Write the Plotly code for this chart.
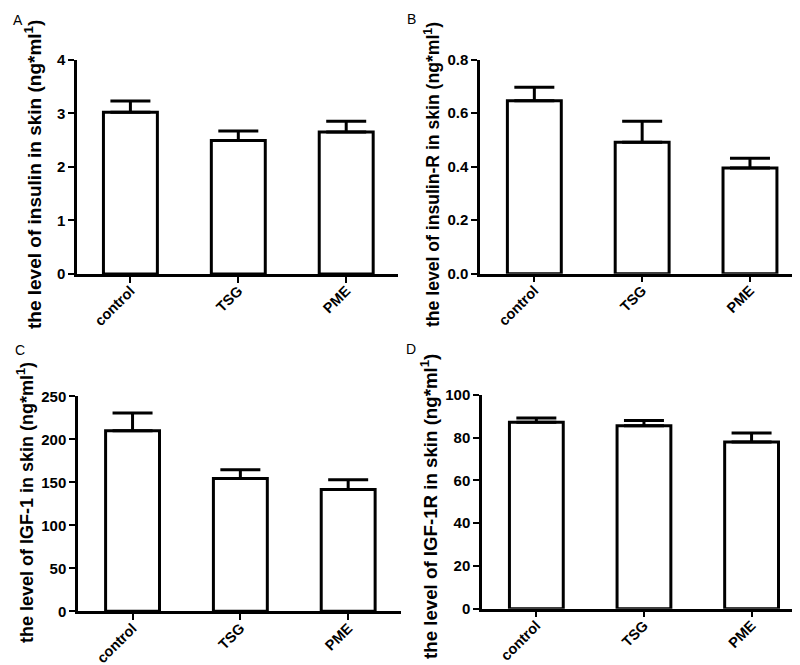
import plotly.graph_objects as go

categories = ["control", "TSG", "PME"]

insulin_mean = [3.02, 2.49, 2.65]
insulin_sem = [0.21, 0.18, 0.20]

insulin_r_mean = [0.647, 0.491, 0.395]
insulin_r_sem = [0.050, 0.079, 0.037]

igf1_mean = [210.0, 154.3, 141.5]
igf1_sem = [20.6, 10.4, 11.6]

igf1r_mean = [87.1, 85.5, 77.9]
igf1r_sem = [2.0, 2.4, 4.2]

panel_letters = ["A", "B", "C", "D"]
y_titles = [
    "the level of insulin in skin (ng*ml<sup>1</sup>)",
    "the level of insulin-R in skin (ng*ml<sup>1</sup>)",
    "the level of IGF-1 in skin (ng*ml<sup>1</sup>)",
    "the level of IGF-1R in skin (ng*ml<sup>1</sup>)",
]
y_ranges = [[0, 4], [0, 0.8], [0, 250], [0, 100]]
y_dtick = [1, 0.2, 50, 20]
y_fmt = [".0f", ".1f", ".0f", ".0f"]

means = [insulin_mean, insulin_r_mean, igf1_mean, igf1r_mean]
sems = [insulin_sem, insulin_r_sem, igf1_sem, igf1r_sem]

W, H = 800, 665
# pixel boxes: (x0, x1, ytop, ybottom)
boxes = [
    (69, 390, 51.7, 266.0),
    (472, 792, 51.7, 265.7),
    (70, 393, 388.3, 603.3),
    (474, 792, 386.7, 600.7),
]
x_ranges = [[-0.495, 2.48], [-0.504, 2.464], [-0.506, 2.49], [-0.505, 2.45]]
# y-title centres (px) and font sizes
title_centres = [(25, 167), (424, 167), (17, 495), (421, 499)]
title_sizes = [19, 17.6, 18, 18.7]
letter_centres = [(9.5, 12), (403, 11), (12, 342), (403, 341)]

FONT = "Liberation Sans, Arial, sans-serif"
xpos = list(range(len(categories)))

fig = go.Figure()
layout = dict(
    width=W, height=H,
    margin=dict(l=0, r=0, t=0, b=0, autoexpand=False),
    paper_bgcolor="white", plot_bgcolor="white",
    showlegend=False,
    font=dict(family=FONT, color="black"),
    annotations=[],
)

for i in range(4):
    xa = "x" if i == 0 else f"x{i+1}"
    ya = "y" if i == 0 else f"y{i+1}"
    fig.add_trace(go.Bar(
        x=xpos, y=means[i], xaxis=xa, yaxis=ya,
        width=0.5,
        marker=dict(color="white", line=dict(color="black", width=3)),
        error_y=dict(type="data", symmetric=False, array=sems[i],
                     arrayminus=[0] * len(sems[i]),
                     color="black", thickness=3, width=20),
        cliponaxis=False,
    ))
    x0, x1, yt, yb = boxes[i]
    key_x = "xaxis" if i == 0 else f"xaxis{i+1}"
    key_y = "yaxis" if i == 0 else f"yaxis{i+1}"
    layout[key_x] = dict(
        domain=[x0 / W, x1 / W], anchor=ya, range=x_ranges[i],
        tickvals=xpos, ticktext=categories, tickangle=-45,
        showline=True, linecolor="black", linewidth=2.5,
        ticks="outside", ticklen=6, tickwidth=2, tickcolor="black",
        ticklabelstandoff=-6,
        tickfont=dict(size=14.5, family=FONT, weight="bold"),
        showgrid=False, zeroline=False, automargin=False, fixedrange=True,
    )
    layout[key_y] = dict(
        domain=[1 - yb / H, 1 - yt / H], anchor=xa, range=y_ranges[i],
        dtick=y_dtick[i], tick0=0, tickformat=y_fmt[i],
        showline=True, linecolor="black", linewidth=2.5,
        ticks="outside", ticklen=6, tickwidth=2, tickcolor="black",
        tickfont=dict(size=15, family=FONT, weight="bold"),
        showgrid=False, zeroline=False, automargin=False, fixedrange=True,
    )
    tx, ty = title_centres[i]
    layout["annotations"].append(dict(
        text=y_titles[i], x=tx / W, y=1 - ty / H, xref="paper", yref="paper",
        xanchor="center", yanchor="middle", textangle=-90, showarrow=False,
        font=dict(size=title_sizes[i], family=FONT, color="black", weight="bold"),
    ))
    lx, ly = letter_centres[i]
    layout["annotations"].append(dict(
        text=panel_letters[i], x=lx / W, y=1 - ly / H, xref="paper", yref="paper",
        xanchor="center", yanchor="middle", showarrow=False,
        font=dict(size=14, family=FONT, color="black"),
    ))

fig.update_layout(**layout)
fig.write_html("out.html")
